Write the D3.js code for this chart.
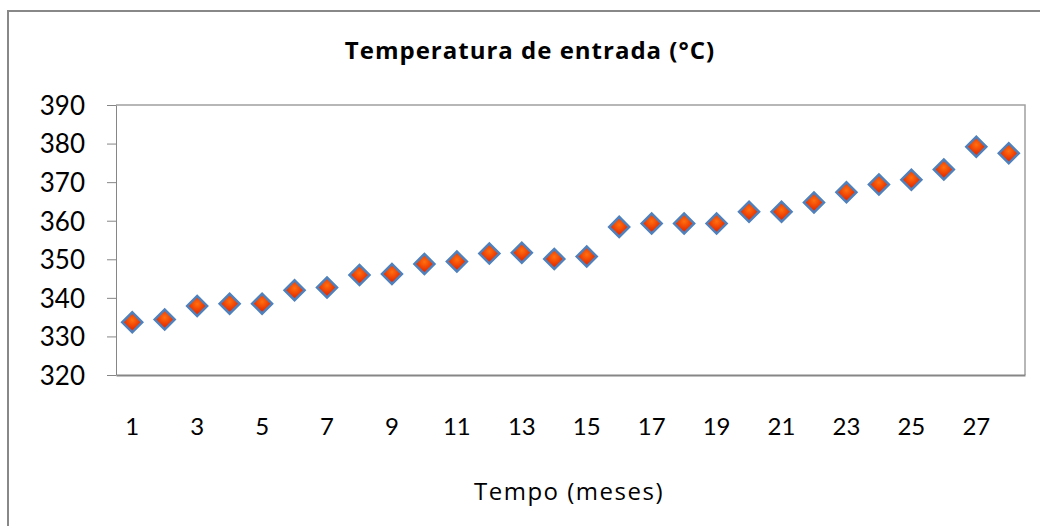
<!DOCTYPE html>
<html>
<head>
<meta charset="utf-8">
<script src="https://cdn.jsdelivr.net/npm/d3@7"></script>
<style>
    body { margin: 0; background: #fff; }
    svg { display: block; }
</style>
</head>
<body>
<svg></svg>
<script>
// dados
var meses = d3.range(1, 29)
var temperatura = [333.7, 334.4, 337.9, 338.5, 338.5, 342.0, 342.7, 345.9, 346.2, 348.8,
                   349.4, 351.5, 351.7, 350.1, 350.7, 358.4, 359.3, 359.3, 359.3, 362.3,
                   362.3, 364.7, 367.4, 369.4, 370.6, 373.3, 379.2, 377.5]
var ticksY = [320, 330, 340, 350, 360, 370, 380, 390]
var ticksX = [1, 3, 5, 7, 9, 11, 13, 15, 17, 19, 21, 23, 25, 27]
var titulo = "Temperatura de entrada (°C)"
var tituloX = "Tempo (meses)"

const width = 1040
const height = 526
const fonte = "Lato, 'Open Sans', sans-serif"
const fonteTitulo = "'Open Sans', Lato, sans-serif"

var svg = d3.select("svg")
    .attr("width", width)
    .attr("height", height)

// borda do grafico (so aparece esquerda e topo)
svg.append("path")
    .attr("d", "M8,600 L8,11 L1100,11")
    .attr("fill", "none")
    .attr("stroke", "#888")
    .attr("stroke-width", 2)

var x = d3.scaleBand().domain(meses).range([116, 1025])
var y = d3.scaleLinear().domain([320, 390]).range([375, 105])

// gradiente dos losangos
var grad = svg.append("defs").append("radialGradient")
    .attr("id", "laranja")
    .attr("cx", "40%").attr("cy", "40%").attr("r", "60%")
grad.append("stop").attr("offset", "0%").attr("stop-color", "#ff7010")
grad.append("stop").attr("offset", "100%").attr("stop-color", "#e83000")

// borda da area do plot (topo e direita)
svg.append("path")
    .attr("d", "M116," + y(390) + " L1025," + y(390) + " L1025," + y(320))
    .attr("fill", "none")
    .attr("stroke", "#a0a0a0")
    .attr("stroke-width", 1.5)

// eixo y
var eixoY = svg.append("g")
    .attr("transform", "translate(116,0)")
    .call(d3.axisLeft(y).tickValues(ticksY).tickSize(9).tickPadding(22).tickSizeOuter(0))
eixoY.select(".domain").attr("stroke", "#868686")
eixoY.selectAll(".tick line").attr("stroke", "#868686")
eixoY.selectAll("text")
    .style("font-family", fonte)
    .style("font-size", "26px")
    .attr("fill", "#000")
    .attr("dy", "0.36em")

// eixo x
var eixoX = svg.append("g")
    .attr("transform", "translate(0,375)")
    .call(d3.axisBottom(x).tickValues(ticksX).tickSize(0).tickSizeOuter(0))
eixoX.select(".domain").attr("stroke", "#868686").attr("stroke-width", 2)
eixoX.selectAll("text")
    .style("font-family", fonte)
    .style("font-size", "24px")
    .attr("fill", "#000")
    .attr("y", 60)
    .attr("dy", 0)

// pontos
svg.append("g")
    .selectAll("path")
    .data(temperatura)
    .join("path")
    .attr("d", d3.symbol(d3.symbolSquare, 200))
    .attr("transform", (d, i) => "translate(" + (x(meses[i]) + x.bandwidth() / 2) + "," + y(d) + ") rotate(45)")
    .attr("fill", "url(#laranja)")
    .attr("stroke", "#4f81bd")
    .attr("stroke-width", 2.5)

// titulos
svg.append("text")
    .attr("x", 530)
    .attr("y", 59)
    .attr("text-anchor", "middle")
    .style("font-family", fonteTitulo)
    .style("font-size", "24px")
    .style("font-weight", "bold")
    .style("letter-spacing", "1px")
    .text(titulo)

svg.append("text")
    .attr("x", 569)
    .attr("y", 500)
    .attr("text-anchor", "middle")
    .style("font-family", fonteTitulo)
    .style("font-size", "24px")
    .style("letter-spacing", "1.5px")
    .text(tituloX)
</script>
</body>
</html>
